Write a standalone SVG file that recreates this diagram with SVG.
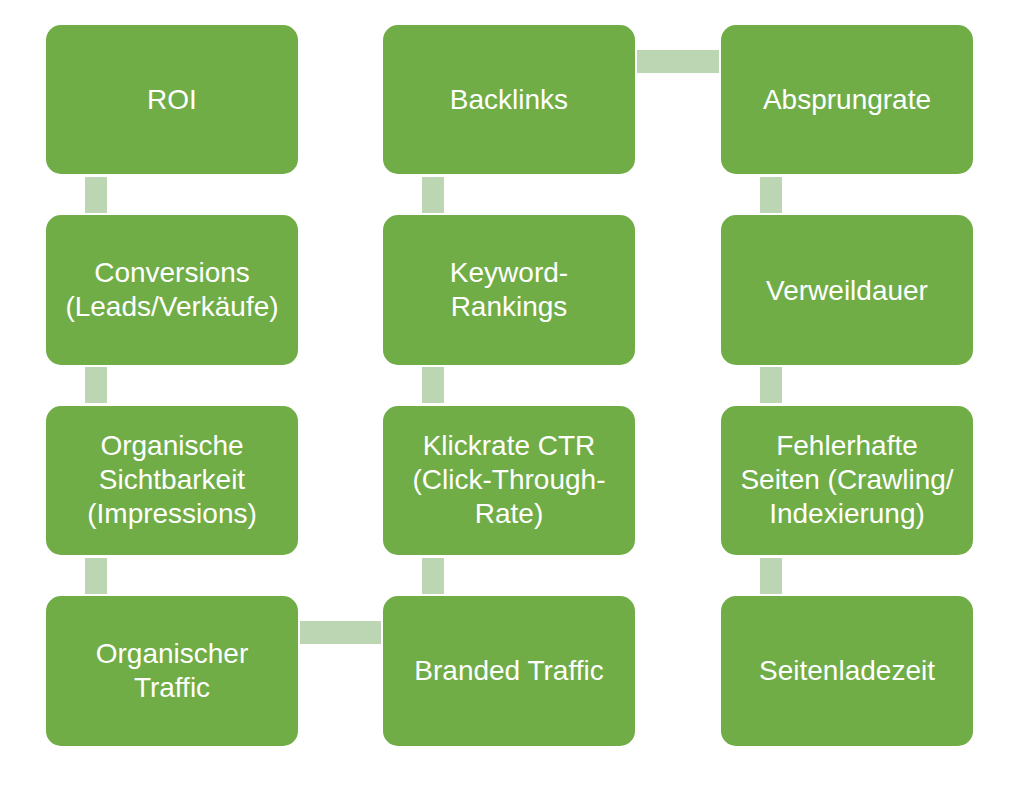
<svg xmlns="http://www.w3.org/2000/svg" width="1011" height="785" viewBox="0 0 1011 785">
<style>
.n{fill:#70AD47}
.c{fill:#BCD5B3}
text{font-family:"Liberation Sans",Arial,sans-serif;font-size:28px;fill:#FFFFFF;text-anchor:middle}
</style>
<rect width="1011" height="785" fill="#FFFFFF"/>
<g id="connectors">
<rect class="c" x="85" y="177" width="22" height="36"/>
<rect class="c" x="85" y="367" width="22" height="36"/>
<rect class="c" x="85" y="558" width="22" height="36"/>
<rect class="c" x="300" y="621" width="81" height="23"/>
<rect class="c" x="422" y="558" width="22" height="36"/>
<rect class="c" x="422" y="367" width="22" height="36"/>
<rect class="c" x="422" y="177" width="22" height="36"/>
<rect class="c" x="637" y="50" width="82" height="23"/>
<rect class="c" x="760" y="177" width="22" height="36"/>
<rect class="c" x="760" y="367" width="22" height="36"/>
<rect class="c" x="760" y="558" width="22" height="36"/>
</g>
<g id="roi"><rect class="n" x="46" y="25" width="252" height="149" rx="15"/><text x="172" y="109">ROI</text></g>
<g id="conversions"><rect class="n" x="46" y="215" width="252" height="150" rx="15"/><text x="172" y="282">Conversions</text><text x="172" y="316">(Leads/Verkäufe)</text></g>
<g id="sichtbarkeit"><rect class="n" x="46" y="406" width="252" height="149" rx="15"/><text x="172" y="455">Organische</text><text x="172" y="489">Sichtbarkeit</text><text x="172" y="523">(Impressions)</text></g>
<g id="traffic"><rect class="n" x="46" y="596" width="252" height="150" rx="15"/><text x="172" y="663">Organischer</text><text x="172" y="697">Traffic</text></g>
<g id="backlinks"><rect class="n" x="383" y="25" width="252" height="149" rx="15"/><text x="509" y="109">Backlinks</text></g>
<g id="rankings"><rect class="n" x="383" y="215" width="252" height="150" rx="15"/><text x="509" y="282">Keyword-</text><text x="509" y="316">Rankings</text></g>
<g id="ctr"><rect class="n" x="383" y="406" width="252" height="149" rx="15"/><text x="509" y="455">Klickrate CTR</text><text x="509" y="489">(Click-Through-</text><text x="509" y="523">Rate)</text></g>
<g id="branded"><rect class="n" x="383" y="596" width="252" height="150" rx="15"/><text x="509" y="680">Branded Traffic</text></g>
<g id="absprungrate"><rect class="n" x="721" y="25" width="252" height="149" rx="15"/><text x="847" y="109">Absprungrate</text></g>
<g id="verweildauer"><rect class="n" x="721" y="215" width="252" height="150" rx="15"/><text x="847" y="300">Verweildauer</text></g>
<g id="fehler"><rect class="n" x="721" y="406" width="252" height="149" rx="15"/><text x="847" y="455">Fehlerhafte</text><text x="847" y="489">Seiten (Crawling/</text><text x="847" y="523">Indexierung)</text></g>
<g id="ladezeit"><rect class="n" x="721" y="596" width="252" height="150" rx="15"/><text x="847" y="680">Seitenladezeit</text></g>
</svg>
